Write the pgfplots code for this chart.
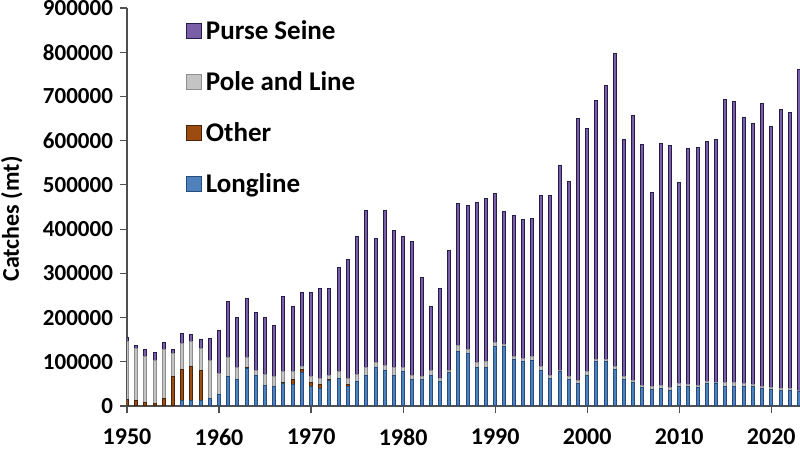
\documentclass[border=0pt]{standalone}
\usepackage{pgfplots}
\pgfplotsset{compat=1.18}
\usepackage{pgfplotstable}
\usepackage{fontspec}
\setmainfont{Carlito}
\usetikzlibrary{calc}

\definecolor{seine}{HTML}{7A5EA6}
\definecolor{seinedark}{HTML}{261C4C}
\definecolor{pole}{HTML}{C4C4C4}
\definecolor{poledark}{HTML}{8E8E8E}
\definecolor{other}{HTML}{9C4C10}
\definecolor{otherdark}{HTML}{4A2408}
\definecolor{long}{HTML}{4F81BD}
\definecolor{longdark}{HTML}{244C7C}
\definecolor{axisgray}{HTML}{505050}

% catches in tonnes: L = longline, O = other, P = pole and line, S = purse seine
\pgfplotstableread{
year L O P S
1950 0 15000 130000 10000
1951 0 12000 117000 7000
1952 0 8000 103000 17000
1953 0 5000 99000 18000
1954 0 18000 109000 17000
1955 0 66000 52000 10000
1956 13000 70000 59000 21000
1957 13000 76000 56000 17000
1958 13000 68000 49000 21000
1959 16000 0 88000 48000
1960 25000 0 49000 96000
1961 66000 0 44000 126000
1962 59000 0 27000 115000
1963 85000 3000 22000 132000
1964 68000 0 13000 131000
1965 47000 0 25000 129000
1966 45000 0 21000 117000
1967 50000 3000 25000 169000
1968 48000 12000 18000 147000
1969 75000 8000 6000 167000
1970 45000 8000 13000 191000
1971 40000 8000 15000 203000
1972 57000 3000 8000 197000
1973 63000 0 15000 235000
1974 45000 3000 15000 269000
1975 55000 0 17000 311000
1976 70000 0 17000 355000
1977 88000 0 10000 281000
1978 81000 0 10000 350000
1979 68000 0 19000 309000
1980 78000 0 10000 295000
1981 61000 0 9000 302000
1982 61000 0 5000 225000
1983 70000 0 10000 145000
1984 55000 0 8000 203000
1985 75000 0 6000 270000
1986 124000 0 12000 321000
1987 118000 0 10000 326000
1988 88000 0 10000 363000
1989 88000 0 12000 370000
1990 134000 0 10000 337000
1991 134000 0 6000 300000
1992 106000 0 6000 318000
1993 100000 0 8000 314000
1994 103000 0 9000 312000
1995 80000 0 10000 387000
1996 63000 0 7000 407000
1997 78000 0 3000 463000
1998 60000 0 6000 441000
1999 50000 0 7000 593000
2000 70000 0 8000 549000
2001 100000 0 6000 585000
2002 100000 0 6000 619000
2003 83000 0 6000 709000
2004 60000 0 6000 536000
2005 53000 0 4000 599000
2006 42000 0 5000 544000
2007 38000 0 6000 439000
2008 40000 0 7000 547000
2009 36000 0 6000 546000
2010 45000 0 5000 455000
2011 44000 0 5000 533000
2012 42000 0 5000 537000
2013 51000 0 4000 542000
2014 50000 0 4000 549000
2015 44000 0 8000 642000
2016 45000 0 7000 636000
2017 44000 0 6000 602000
2018 44000 0 5000 589000
2019 40000 0 4000 641000
2020 38000 0 4000 591000
2021 36000 0 4000 630000
2022 36000 0 4000 624000
2023 32000 0 4000 724000
}\catches

\begin{document}
\begin{tikzpicture}
\begin{axis}[
  scale only axis, width=336.5pt, height=199pt,
  ybar stacked, bar width=1.5pt,
  xmin=1950, xmax=2023.12, ymin=0, ymax=900000,
  enlarge x limits=false,
  axis lines*=left,
  axis line style={axisgray, line width=0.6pt},
  xtick={1950,1960,...,2020},
  ytick={0,100000,...,900000},
  tick align=outside, major tick length=3.5pt,
  tick style={axisgray, line width=0.6pt},
  scaled y ticks=false,
  /pgf/number format/fixed,
  /pgf/number format/precision=0,
  /pgf/number format/assume math mode=true,
  /pgf/number format/1000 sep={},
  tick label style={font=\fontsize{11.5}{13}\selectfont\bfseries},
  xticklabel style={yshift=-4.5pt, font=\fontsize{12}{14}\selectfont\bfseries},
  ylabel={Catches (mt)},
  ylabel style={font=\fontsize{12}{14}\selectfont\bfseries,
    at={(axis description cs:-0.171,0.47)}, anchor=center},
  reverse legend,
  legend cell align=left,
  legend image code/.code={\fill[#1] (0pt,-3.75pt) rectangle (7.5pt,3.75pt);},
  legend style={at={(axis description cs:0.078,0.99)}, anchor=north west,
    draw=none, fill=none, row sep=10.5pt,
    font=\fontsize{13.5}{16}\selectfont\bfseries},
]
\addplot[fill=long, draw=longdark, line width=0.5pt] table[x=year, y=L] {\catches};
\addlegendentry{Longline}
\addplot[fill=other, draw=otherdark, line width=0.5pt] table[x=year, y=O] {\catches};
\addlegendentry{Other}
\addplot[fill=pole, draw=poledark, line width=0.5pt] table[x=year, y=P] {\catches};
\addlegendentry{Pole and Line}
\addplot[fill=seine, draw=seinedark, line width=0.5pt] table[x=year, y=S] {\catches};
\addlegendentry{Purse Seine}
\end{axis}
\pgfresetboundingbox
\path[use as bounding box] ($(current axis.south west)+(-63.5pt,-23pt)$) rectangle ($(current axis.north east)+(0pt,4pt)$);
\end{tikzpicture}
\end{document}
